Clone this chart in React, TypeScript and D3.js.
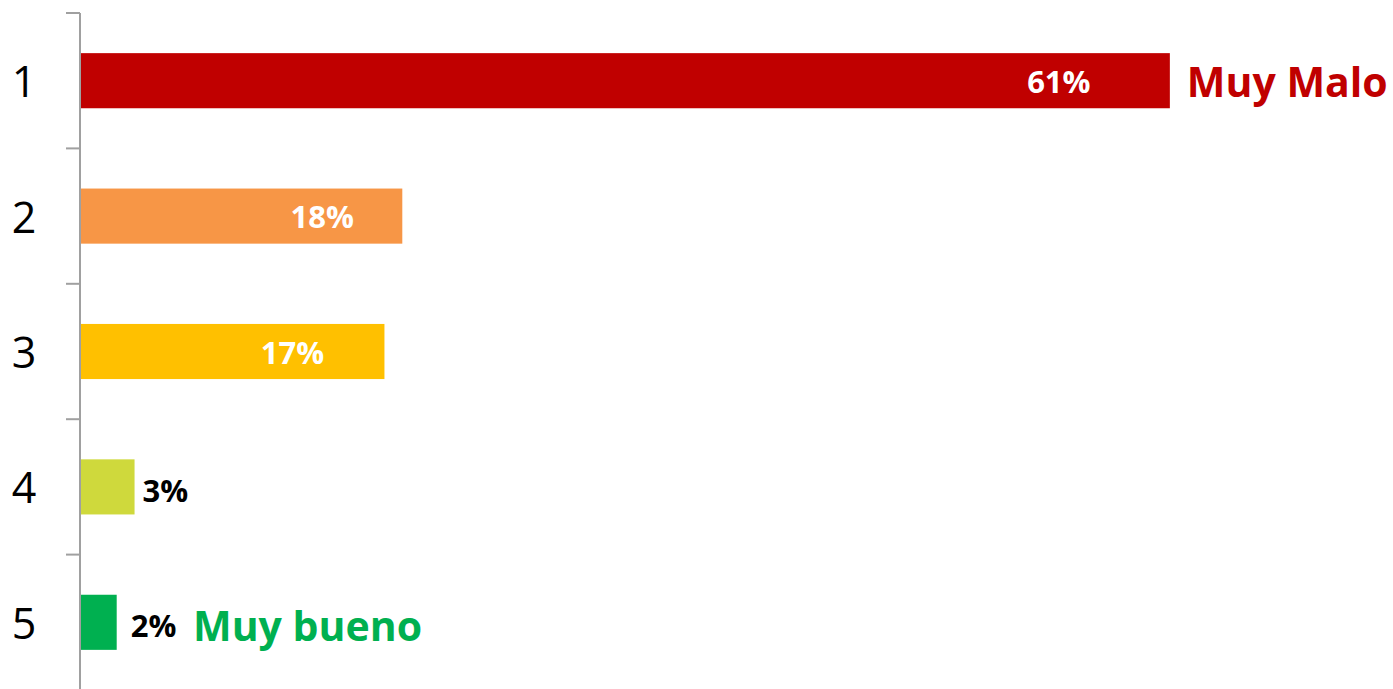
import React from "react";
import * as d3 from "d3";

const categories = ["1", "2", "3", "4", "5"];
const values = [61, 18, 17, 3, 2];
const valueLabels = ["61%", "18%", "17%", "3%", "2%"];
const barColors = ["#C00000", "#F79646", "#FFC000", "#CFD93C", "#00B050"];
const insideLabel = [true, true, true, false, false];
const insideLabelDx = [-111, -80, -92, 0, 0];
const outsideLabelDx = [0, 0, 0, 8, 14];
const sideNames = ["Muy Malo", "", "", "", "Muy bueno"];
const sideColors = ["#C00000", "", "", "", "#00B050"];

const W = 1393;
const H = 689;
const FONT = "'Open Sans', 'Noto Sans', sans-serif";

export default function App() {
  const top = 13;
  const bottom = 690;
  const y = d3
    .scaleBand<string>()
    .domain(categories)
    .range([top, bottom])
    .paddingInner(0.593)
    .paddingOuter(0.2965);
  const x = d3.scaleLinear().domain([0, 70]).range([81, 81 + 70 * 17.85]);
  const step = y.step();
  const boundaries = d3.range(categories.length + 1).map((i) => top + i * step);
  const axisX = 80;

  return (
    <div style={{ position: "absolute", left: 0, top: 0 }}>
      <svg width={W} height={H} style={{ display: "block", background: "#fff" }}>
        {categories.map((c, i) => {
          const yy = y(c)!;
          const bw = y.bandwidth();
          const cy = yy + bw / 2;
          const xEnd = x(values[i]);
          return (
            <g key={c}>
              <rect x={x(0)} y={yy} width={xEnd - x(0)} height={bw} fill={barColors[i]} />
              <text
                x={24}
                y={cy}
                textAnchor="middle"
                dominantBaseline="central"
                fontFamily={FONT}
                fontSize={43}
                fill="#000"
              >
                {c}
              </text>
              {insideLabel[i] ? (
                <text
                  x={xEnd + insideLabelDx[i]}
                  y={cy}
                  textAnchor="middle"
                  dominantBaseline="central"
                  fontFamily={FONT}
                  fontWeight="bold"
                  fontSize={31}
                  fill="#fff"
                >
                  {valueLabels[i]}
                </text>
              ) : (
                <text
                  x={xEnd + outsideLabelDx[i]}
                  y={cy + 3}
                  textAnchor="start"
                  dominantBaseline="central"
                  fontFamily={FONT}
                  fontWeight="bold"
                  fontSize={31}
                  fill="#000"
                >
                  {valueLabels[i]}
                </text>
              )}
            </g>
          );
        })}
        <text
          x={x(values[0]) + 17}
          y={y(categories[0])! + y.bandwidth() / 2}
          dominantBaseline="central"
          fontFamily={FONT}
          fontWeight="bold"
          fontSize={41}
          fill={sideColors[0]}
        >
          {sideNames[0]}
        </text>
        <text
          x={193}
          y={y(categories[4])! + y.bandwidth() / 2 + 3}
          dominantBaseline="central"
          fontFamily={FONT}
          fontWeight="bold"
          fontSize={41}
          fill={sideColors[4]}
        >
          {sideNames[4]}
        </text>
        <line x1={axisX} x2={axisX} y1={top} y2={H} stroke="#A0A0A0" strokeWidth={2} />
        {boundaries.map((b, i) => (
          <line key={i} x1={66} x2={axisX} y1={b} y2={b} stroke="#A0A0A0" strokeWidth={2} />
        ))}
      </svg>
    </div>
  );
}
